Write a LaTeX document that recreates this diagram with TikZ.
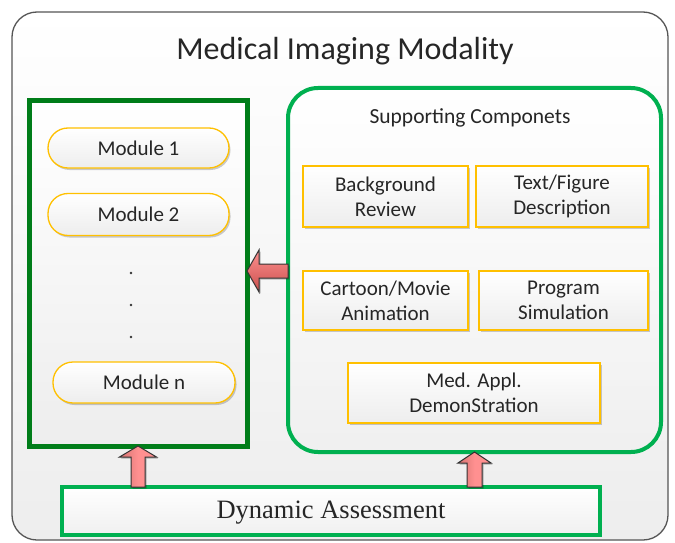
\documentclass[tikz,border=0pt]{standalone}
\usepackage{fontspec}
\setmainfont{Carlito}
\newfontfamily\timesfont{Liberation Serif}
\usetikzlibrary{calc,shadows}
\definecolor{txt}{HTML}{262626}
\definecolor{dgreen}{RGB}{0,125,25}
\definecolor{lgreen}{HTML}{00B050}
\definecolor{ybord}{HTML}{FFC000}
\definecolor{outline}{HTML}{555555}
\definecolor{arrlight}{HTML}{FF9090}
\definecolor{arrdark}{HTML}{C9504D}
\tikzset{
  outerbox/.style={draw=outline, line width=1.3pt, rounded corners=25pt,
    top color=white, bottom color=black!7, minimum width=656pt, minimum height=528pt,
    inner sep=0pt, outer sep=0pt},
  greenbox/.style={line width=5pt, draw=dgreen, top color=white, bottom color=black!7,
    inner sep=0pt, outer sep=0pt},
  roundgreen/.style={line width=4pt, draw=lgreen, rounded corners=30pt, top color=white,
    bottom color=black!6, inner sep=0pt, outer sep=0pt},
  modulebox/.style={draw=ybord, line width=1.3pt, rounded corners=20pt, top color=white,
    bottom color=black!7, inner sep=0pt, outer sep=0pt, text=txt,
    font=\fontsize{21}{25}\selectfont,
    drop shadow={shadow xshift=1.5pt, shadow yshift=-2pt, opacity=0.2, fill=black}},
  compbox/.style={draw=ybord, line width=1.3pt, top color=white, bottom color=black!7,
    inner sep=0pt, outer sep=0pt, text=txt, align=center,
    font=\fontsize{21}{25}\selectfont,
    drop shadow={shadow xshift=1.5pt, shadow yshift=-2pt, opacity=0.2, fill=black}},
  assessbox/.style={line width=4pt, draw=lgreen, top color=white, bottom color=black!6,
    inner sep=0pt, outer sep=0pt},
  blockarrow/.style={draw=black!80, line width=1pt, line join=miter,
    drop shadow={shadow xshift=1.5pt, shadow yshift=-1.5pt, opacity=0.25, fill=black}},
  harrow/.style={blockarrow, top color=arrlight, bottom color=arrdark},
  varrow/.style={blockarrow, left color=arrdark!80, right color=arrlight, middle color=arrlight},
  dotmark/.style={circle, fill=black!80, inner sep=0pt, minimum size=2.6pt}
}
\begin{document}
\begin{tikzpicture}[x=1pt, y=-1pt]
\useasboundingbox (0,0) rectangle (675,543);
\fill[white] (0,0) rectangle (675,543);

\node[outerbox] (outer) at (340,276) {};
\node[text=txt, font=\fontsize{32}{36}\selectfont] (title) at (345,51) {Medical Imaging Modality};

% left column
\node[greenbox, minimum width=218pt, minimum height=346pt] (Lbox) at (138,273) {};
\node[modulebox, minimum width=181pt, minimum height=40pt] (m1) at (138.5,148) {Module 1};
\node[modulebox, minimum width=181pt, minimum height=42pt] (m2) at (138.5,214.5) {Module 2};
\node[dotmark] (d1) at (131,273) {};
\node[dotmark] (d2) at (131,305) {};
\node[dotmark] (d3) at (131,337) {};
\node[modulebox, minimum width=182pt, minimum height=41pt] (mn) at (144,382.5) {Module n};

% right column
\node[roundgreen, minimum width=373pt, minimum height=364pt] (Rbox) at (474.5,270) {};
\node[text=txt, font=\fontsize{21.5}{24}\selectfont] (sc) at (470,118) {Supporting Componets};
\node[compbox, minimum width=165pt, minimum height=61pt] (bg) at (385.5,196.5) {Background\\Review};
\node[compbox, minimum width=172pt, minimum height=61pt] (tf) at (562,196.5) {Text/Figure\\Description};
\node[compbox, minimum width=165pt, minimum height=59pt] (cm) at (385.5,300.5) {Cartoon/Movie\\Animation};
\node[compbox, minimum width=169pt, minimum height=59pt] (ps) at (563.5,300.5) {Program\\Simulation};
\node[compbox, minimum width=252pt, minimum height=60pt] (ma) at (474,393) {Med. Appl.\\DemonStration};

% bottom
\node[assessbox, minimum width=538pt, minimum height=48pt] (da) at (331,511) {};
\node[text=txt, font=\timesfont\fontsize{26.5}{30}\selectfont] (dat) at (331,513) {Dynamic Assessment};

% arrows
\coordinate (la1) at (Lbox.east |- 0,271);
\coordinate (la2) at (Rbox.west |- 0,271);
\draw[harrow] (la1) -- ($(la1)+(12,-21)$) -- ($(la1)+(12,-7)$) -- ($(la2)+(0,-7)$)
  -- ($(la2)+(0,7)$) -- ($(la1)+(12,7)$) -- ($(la1)+(12,21)$) -- cycle;

\coordinate (ua1) at (Lbox.south);
\coordinate (ua2) at (Lbox.south |- da.north);
\draw[varrow] (ua1) -- ($(ua1)+(18.5,11)$) -- ($(ua1)+(7,11)$) -- ($(ua2)+(7,0)$)
  -- ($(ua2)+(-7,0)$) -- ($(ua1)+(-7,11)$) -- ($(ua1)+(-18.5,11)$) -- cycle;

\coordinate (ub1) at (Rbox.south);
\coordinate (ub2) at (Rbox.south |- da.north);
\draw[varrow] (ub1) -- ($(ub1)+(16.5,11)$) -- ($(ub1)+(7.5,11)$) -- ($(ub2)+(7.5,0)$)
  -- ($(ub2)+(-7.5,0)$) -- ($(ub1)+(-7.5,11)$) -- ($(ub1)+(-16.5,11)$) -- cycle;
\end{tikzpicture}
\end{document}
